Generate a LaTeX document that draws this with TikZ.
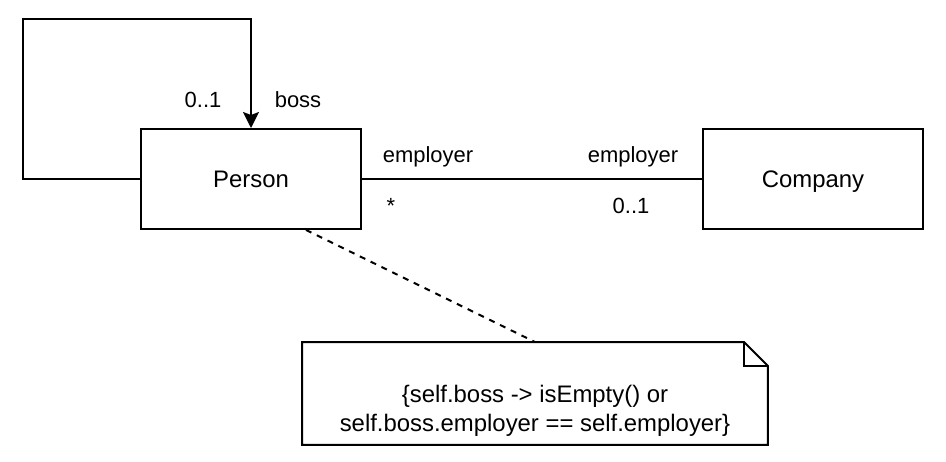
\documentclass[tikz,border=0pt]{standalone}
\usepackage{fontspec}
\setmainfont{Liberation Sans}
\usetikzlibrary{arrows.meta}
\usetikzlibrary{positioning}

\newcommand{\boxfont}{\fontsize{13.6}{16.4}\selectfont}
\newcommand{\labelfont}{\fontsize{12.5}{15}\selectfont}

\tikzset{
	classbox/.style={draw, line width=0.04cm, minimum width=4.4cm, minimum height=2cm,
		text height=0.344cm, text depth=0cm, font=\boxfont},
	rolelabel/.style={anchor=base, inner sep=0pt, font=\labelfont},
}

\begin{document}
\begin{tikzpicture}[x=0.02cm, y=-0.02cm, line width=0.04cm]

	\useasboundingbox (0,0) rectangle (946,462);

	\node[classbox] (person) at (251,179) {Person};
	\node[classbox] (company) at (813,179) {Company};

	\coordinate (loopcorner) at (23,19);
	\draw[-{Stealth[length=0.32cm, width=0.32cm, inset=0.06cm]}]
		(person.west) -| (loopcorner) -| (person.north);
	\node[rolelabel] (bossmult) at (203,108) {0..1};
	\node[rolelabel] (bossrole) at (298,108) {boss};

	\draw (person.east) -- (company.west);
	\node[rolelabel] (emprole1) at (428,163) {employer};
	\node[rolelabel] (emprole2) at (633,163) {employer};
	\node[rolelabel] (empmult1) at (391,214) {*};
	\node[rolelabel] (empmult2) at (631,214) {0..1};

	\node[minimum width=9.28cm, minimum height=2.02cm] (note) at (535,393.5) {};
	\draw (note.south west) -- (note.north west) -- ([xshift=-0.48cm]note.north east)
		-- ([yshift=-0.48cm]note.north east) -- (note.south east) -- cycle;
	\draw ([xshift=-0.48cm]note.north east) |- ([yshift=-0.48cm]note.north east);
	\node[align=center, inner sep=0pt, font=\fontsize{13.6}{16.44}\selectfont] (constraint)
		at (535,411) {\{self.boss -> isEmpty() or\\self.boss.employer == self.employer\}};

	\draw[dash pattern=on 0.12cm off 0.12cm] ([xshift=1.1cm]person.south) -- (note.north);
\end{tikzpicture}
\end{document}
